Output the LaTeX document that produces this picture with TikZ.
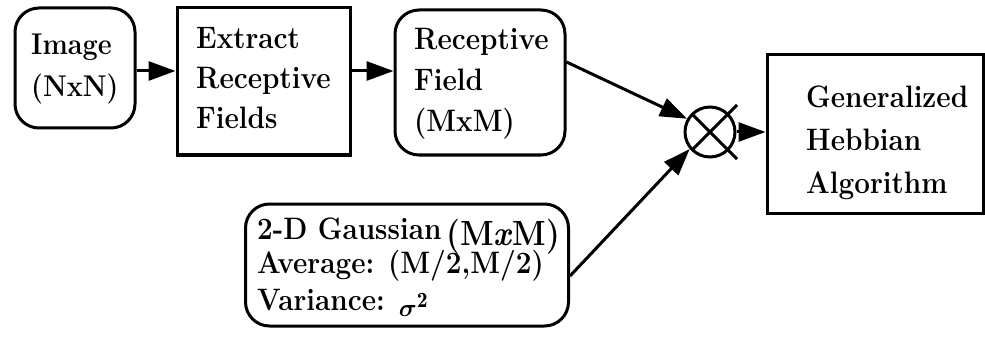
\documentclass[tikz,border=0pt]{standalone}
\usepackage{amsmath}
\usepackage{fontspec}
\newfontfamily\blockfont{Latin Modern Roman}[FakeStretch=0.9]
\usetikzlibrary{arrows.meta}

\begin{document}
\begin{tikzpicture}[x=1pt,y=-1pt,
  box/.style={draw, line width=3pt, inner sep=0pt},
  rbox/.style={box, rounded corners=24pt},
  label/.style={anchor=north west, inner sep=0pt, align=left,
    font=\blockfont\bfseries\fontsize{31}{41}\selectfont},
  flow/.style={line width=3pt, -{Triangle[length=27pt,width=19pt]}},
]
\useasboundingbox (0,0) rectangle (985,350);

% blocks of the upper row
\node[rbox, minimum width=120pt, minimum height=120pt] (img) at (75,68) {};
\node[label, font=\blockfont\bfseries\fontsize{30}{42}\selectfont] (imgT) at (31,34) {Image\\(NxN)};

\node[box, minimum width=173pt, minimum height=147pt] (ext) at (263.5,81.5) {};
\node[label, font=\blockfont\bfseries\fontsize{31}{40}\selectfont] (extT) at (196,27) {Extract\\Receptive\\Fields};

\node[rbox, minimum width=170pt, minimum height=145pt] (rf) at (480,82.5) {};
\node[label] (rfT) at (414,28) {Receptive\\Field\\(MxM)};

% multiplier
\node[circle, draw, line width=3pt, minimum size=50pt, inner sep=0pt] (mul) at (710,132) {};
\draw[line width=3pt] ([shift={(-18,-18)}]mul.center) -- ([shift={(27,27)}]mul.center);
\draw[line width=3pt] ([shift={(-18,18)}]mul.center) -- ([shift={(27,-27)}]mul.center);

% output block
\node[box, minimum width=216pt, minimum height=158pt] (gha) at (875,134) {};
\node[label, font=\blockfont\bfseries\fontsize{31}{43}\selectfont] (ghaT) at (806,86) {Generalized\\Hebbian\\Algorithm};

% weighting window
\node[rbox, minimum width=323pt, minimum height=122pt] (gau) at (407,265) {};
\node[label, font=\blockfont\bfseries\fontsize{31}{34}\selectfont] (gauT) at (257,218)
  {2-D Gaussian\hspace{5pt}\smash{\raisebox{-6pt}{\fontsize{35}{35}\selectfont(M\textit{x}M)}}\\
   Average: (M/2,M/2)\\[3pt]
   Variance: \smash{\raisebox{-6pt}{$\boldsymbol{\sigma}^{\mathbf{2}}$}}};

% connectors
\draw[flow] (img.east |- 0,71) -- (ext.west |- 0,71);
\draw[flow] (ext.east |- 0,71) -- (rf.west |- 0,71);
\draw[flow] (rf.east |- 0,62) -- (mul.150);
\draw[flow] (gau.east |- 0,276) -- (mul.220);
\draw[flow] (mul.east) -- (gha.west |- mul.east);
\end{tikzpicture}
\end{document}
